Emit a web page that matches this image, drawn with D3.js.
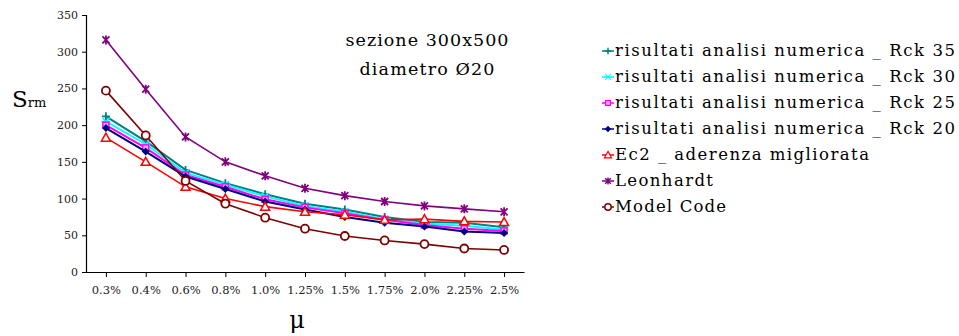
<!DOCTYPE html>
<html>
<head>
<meta charset="utf-8">
<script src="https://cdn.jsdelivr.net/npm/d3@7"></script>
<style>
  body { margin: 0; background: #fff; }
</style>
</head>
<body>
<div id="chart"></div>
<script>
// categories (reinforcement ratio)
const categories = ["0.3%", "0.4%", "0.6%", "0.8%", "1.0%", "1.25%", "1.5%", "1.75%", "2.0%", "2.25%", "2.5%"];
const yTicks = [0, 50, 100, 150, 200, 250, 300, 350];

// series values (srm)
const rck35 = [212, 178, 139, 121, 106, 93, 85, 75, 68, 67, 61];
const rck30 = [205, 174, 135, 119, 103, 90, 82, 72, 66, 63, 58];
const rck25 = [200, 169, 132, 116, 99, 88, 80, 71, 64, 59, 56];
const rck20 = [196, 164, 130, 113, 96, 85, 75, 67, 62, 55, 53];
const ec2 = [183, 150, 116, 100, 89, 82, 78, 71, 72, 69, 68];
const leonhardt = [316, 249, 184, 150, 131, 114, 104, 96, 90, 86, 82];
const modelCode = [247, 186, 124, 93, 74, 59, 49, 43, 38, 32, 30];

const seriesNames = [
  "risultati analisi numerica _ Rck 35",
  "risultati analisi numerica _ Rck 30",
  "risultati analisi numerica _ Rck 25",
  "risultati analisi numerica _ Rck 20",
  "Ec2 _ aderenza migliorata",
  "Leonhardt",
  "Model Code"
];
const seriesValues = [rck35, rck30, rck25, rck20, ec2, leonhardt, modelCode];
const seriesColors = ["#008080", "#00ffff", "#ff00ff", "#000080", "#ff0000", "#800080", "#800000"];
const seriesMarkers = ["plus", "star", "square", "diamond", "triangle", "asterisk", "circle"];

const width = 959, height = 336;
const FONT = "DejaVu Serif";

const svg = d3.select("#chart").append("svg")
    .attr("width", width)
    .attr("height", height)
    .attr("font-family", FONT);

const x = d3.scalePoint()
    .domain(categories)
    .range([86, 524])
    .padding(0.5);

const y = d3.scaleLinear()
    .domain([0, 350])
    .range([272, 15]);

// axes
const yAxis = svg.append("g")
    .attr("transform", "translate(86,0)")
    .call(d3.axisLeft(y).tickValues(yTicks).tickSize(4).tickPadding(4));
yAxis.attr("font-family", FONT);
yAxis.select(".domain").attr("stroke", "#000").attr("stroke-width", 1.2);
yAxis.selectAll("text").attr("font-size", 11).attr("fill", "#222");

const xAxis = svg.append("g")
    .attr("transform", "translate(0,272)")
    .call(d3.axisBottom(x).tickSize(5).tickSizeOuter(0).tickPadding(9));
xAxis.attr("font-family", FONT);
xAxis.select(".domain").attr("stroke", "#000").attr("stroke-width", 1.2);
xAxis.selectAll("text").attr("font-size", 11.5).attr("fill", "#222");

// marker drawing
function drawMarker(g, type, color) {
  if (type === "plus") {
    g.append("path").attr("d", "M-4,0H4M0,-4V4")
      .attr("stroke", color).attr("stroke-width", 1.8).attr("fill", "none");
  } else if (type === "star") {
    g.append("path").attr("d", "M-3.5,-3.5L3.5,3.5M-3.5,3.5L3.5,-3.5M-4.5,0H4.5")
      .attr("stroke", color).attr("stroke-width", 1.5).attr("fill", "none");
  } else if (type === "square") {
    g.append("rect").attr("x", -3).attr("y", -3).attr("width", 6).attr("height", 6)
      .attr("stroke", color).attr("stroke-width", 1.5).attr("fill", "#ffb0ff");
  } else if (type === "diamond") {
    g.append("path").attr("d", "M0,-4L4,0L0,4L-4,0Z").attr("fill", color);
  } else if (type === "triangle") {
    g.append("path").attr("d", "M0,-4.5L4.5,3.5L-4.5,3.5Z")
      .attr("stroke", color).attr("stroke-width", 1.5).attr("fill", "#fff");
  } else if (type === "asterisk") {
    g.append("path").attr("d", "M-3.5,-3.5L3.5,3.5M-3.5,3.5L3.5,-3.5M0,-4.5V4.5")
      .attr("stroke", color).attr("stroke-width", 1.8).attr("fill", "none");
  } else if (type === "circle") {
    g.append("circle").attr("r", 4)
      .attr("stroke", color).attr("stroke-width", 1.8).attr("fill", "#fff");
  }
}

const line = d3.line()
    .x((d, i) => x(categories[i]))
    .y(d => y(d));

seriesValues.forEach((vals, k) => {
  const g = svg.append("g");
  g.append("path")
      .datum(vals)
      .attr("fill", "none")
      .attr("stroke", seriesColors[k])
      .attr("stroke-width", k < 4 ? 2 : 1.6)
      .attr("d", line);
  g.selectAll("g.pt")
    .data(vals)
    .join("g")
      .attr("class", "pt")
      .attr("transform", (d, i) => `translate(${x(categories[i])},${y(d)})`)
      .each(function() { drawMarker(d3.select(this), seriesMarkers[k], seriesColors[k]); });
});

// stretch a text to the width it has in the reference
function fitWidth(t, w) {
  if (t.node().getComputedTextLength() < w) {
    t.attr("textLength", w).attr("lengthAdjust", "spacing");
  }
}

// annotation
const a1 = svg.append("text")
    .attr("x", 427).attr("y", 46)
    .attr("text-anchor", "middle")
    .attr("font-size", 17.5)
    .text("sezione 300x500");
fitWidth(a1, 163);
const a2 = svg.append("text")
    .attr("x", 427).attr("y", 75)
    .attr("text-anchor", "middle")
    .attr("font-size", 17.5)
    .text("diametro Ø20");
fitWidth(a2, 135);

// axis titles
const yt = svg.append("text")
    .attr("x", 12).attr("y", 107);
yt.append("tspan").attr("font-size", 23).text("S");
yt.append("tspan").attr("font-size", 13).text("rm");

svg.append("text")
    .attr("x", 297).attr("y", 328)
    .attr("text-anchor", "middle")
    .attr("font-size", 24)
    .text("μ");

// legend
const legendWidths = [340, 340, 340, 340, 254, 98, 111];
const legend = svg.append("g");
seriesNames.forEach((name, k) => {
  const ly = 50 + k * 26;
  const row = legend.append("g").attr("transform", `translate(0,${ly})`);
  row.append("line")
      .attr("x1", 602).attr("x2", 614)
      .attr("y1", 1).attr("y2", 1)
      .attr("stroke", seriesColors[k]).attr("stroke-width", 1.5);
  const m = row.append("g").attr("transform", "translate(608,1) scale(0.8)");
  drawMarker(m, seriesMarkers[k], seriesColors[k]);
  const t = row.append("text")
      .attr("x", 615).attr("y", 6)
      .attr("font-size", 16.5)
      .text(name);
  fitWidth(t, legendWidths[k]);
});
</script>
</body>
</html>
